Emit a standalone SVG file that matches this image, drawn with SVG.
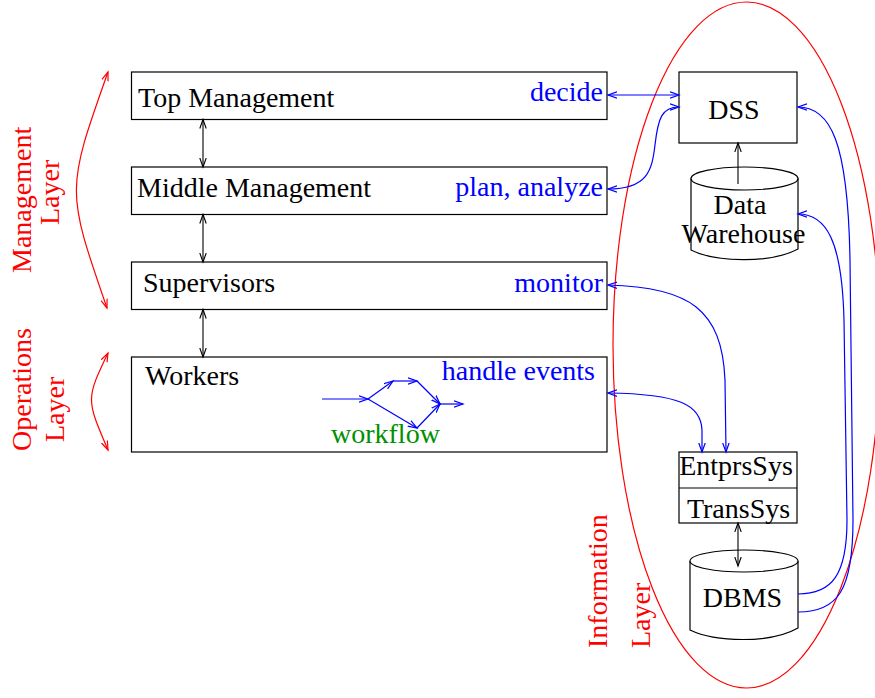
<svg xmlns="http://www.w3.org/2000/svg" width="875" height="698" viewBox="0 0 875 698">
  <style>
    .box { fill: #fff; stroke: #000; stroke-width: 1.2; }
    .t { font-family: "Liberation Serif", "Times New Roman", serif; font-size: 28px; }
    .k { fill: #000; }
    .b { fill: #0000ff; }
    .r { fill: #ff0000; }
    .g { fill: #009000; }
    .ck { fill: none; stroke: #000; stroke-width: 1.1; }
    .cb { fill: none; stroke: #0000ff; stroke-width: 1.2; }
    .cr { fill: none; stroke: #ff0000; stroke-width: 1.2; }
  </style>
  <defs>
    <marker id="ak" markerUnits="userSpaceOnUse" markerWidth="12" markerHeight="10" refX="9" refY="4" orient="auto-start-reverse">
      <path d="M0,0.8 L9,4 L0,7.2" fill="none" stroke="#000" stroke-width="1.1"/>
    </marker>
    <marker id="ab" markerUnits="userSpaceOnUse" markerWidth="12" markerHeight="10" refX="9" refY="4" orient="auto-start-reverse">
      <path d="M0,0.8 L9,4 L0,7.2" fill="none" stroke="#0000ff" stroke-width="1.2"/>
    </marker>
    <marker id="ar" markerUnits="userSpaceOnUse" markerWidth="12" markerHeight="10" refX="9" refY="4" orient="auto-start-reverse">
      <path d="M0,0.8 L9,4 L0,7.2" fill="none" stroke="#ff0000" stroke-width="1.2"/>
    </marker>
  </defs>

  <!-- information layer boundary -->
  <ellipse cx="746.5" cy="345" rx="133.5" ry="343" class="cr"/>

  <!-- hierarchy boxes -->
  <g id="top-management">
    <rect class="box" x="131.5" y="72" width="475.5" height="47.5"/>
    <text class="t k" x="138" y="107">Top Management</text>
    <text class="t b" x="603" y="101" text-anchor="end">decide</text>
  </g>
  <g id="middle-management">
    <rect class="box" x="131.5" y="167" width="475.5" height="47.5"/>
    <text class="t k" x="137" y="197">Middle Management</text>
    <text class="t b" x="603" y="196" text-anchor="end">plan, analyze</text>
  </g>
  <g id="supervisors">
    <rect class="box" x="131.5" y="262" width="475.5" height="47.5"/>
    <text class="t k" x="143" y="292">Supervisors</text>
    <text class="t b" x="603" y="292" text-anchor="end">monitor</text>
  </g>
  <g id="workers">
    <rect class="box" x="131.5" y="357" width="475.5" height="95"/>
    <text class="t k" x="145" y="385">Workers</text>
    <text class="t b" x="595" y="380" text-anchor="end">handle events</text>
    <g id="workflow">
      <line class="cb" x1="322" y1="399" x2="368" y2="399" marker-end="url(#ab)"/>
      <line class="cb" x1="368" y1="399" x2="393" y2="381" marker-end="url(#ab)"/>
      <line class="cb" x1="393" y1="381" x2="417" y2="381" marker-end="url(#ab)"/>
      <line class="cb" x1="417" y1="381" x2="440" y2="404" marker-end="url(#ab)"/>
      <line class="cb" x1="368" y1="399" x2="417" y2="428" marker-end="url(#ab)"/>
      <line class="cb" x1="417" y1="428" x2="440" y2="404" marker-end="url(#ab)"/>
      <line class="cb" x1="440" y1="404" x2="463" y2="404" marker-end="url(#ab)"/>
      <text class="t g" x="331" y="443">workflow</text>
    </g>
  </g>

  <!-- information systems -->
  <g id="dss">
    <rect class="box" x="679" y="72" width="118" height="71"/>
    <text class="t k" x="734" y="119" text-anchor="middle">DSS</text>
  </g>
  <g id="data-warehouse">
    <path class="box" d="M691,178.5 L691,250 C 715,262 770,264 798,249 L798,178.5"/>
    <ellipse class="box" cx="744.5" cy="178.5" rx="53.5" ry="11.5"/>
    <text class="t k" x="740" y="214" text-anchor="middle">Data</text>
    <text class="t k" x="743.5" y="243" text-anchor="middle" textLength="124" lengthAdjust="spacing">Warehouse</text>
  </g>
  <g id="enterprise-systems">
    <rect class="box" x="679" y="452" width="118" height="71"/>
    <line class="ck" x1="679" y1="488" x2="797" y2="488"/>
    <text class="t k" x="736" y="475" text-anchor="middle">EntprsSys</text>
    <text class="t k" x="738.5" y="518" text-anchor="middle">TransSys</text>
  </g>
  <g id="dbms">
    <path class="box" d="M690,561 L690,630 C 715,642 770,644 798,628 L798,561"/>
    <ellipse class="box" cx="744" cy="561" rx="54" ry="11"/>
    <text class="t k" x="742.5" y="607" text-anchor="middle">DBMS</text>
  </g>

  <!-- layer labels -->
  <g id="management-layer">
    <text class="t r" transform="translate(31,273) rotate(-90)">Management</text>
    <text class="t r" transform="translate(59,225) rotate(-90)">Layer</text>
  </g>
  <g id="operations-layer">
    <text class="t r" transform="translate(31,451) rotate(-90)">Operations</text>
    <text class="t r" transform="translate(64,442) rotate(-90)">Layer</text>
  </g>
  <g id="information-layer">
    <text class="t r" transform="translate(607,648) rotate(-90)">Information</text>
    <text class="t r" transform="translate(650,648) rotate(-90)">Layer</text>
  </g>

  <!-- connectors -->
  <g id="connectors">
    <line class="ck" x1="203" y1="119.5" x2="203" y2="167" marker-start="url(#ak)" marker-end="url(#ak)"/>
    <line class="ck" x1="203" y1="214.5" x2="203" y2="262" marker-start="url(#ak)" marker-end="url(#ak)"/>
    <line class="ck" x1="203" y1="309.5" x2="203" y2="357" marker-start="url(#ak)" marker-end="url(#ak)"/>
    <line class="ck" x1="738" y1="184" x2="738" y2="143" marker-end="url(#ak)"/>
    <line class="ck" x1="738" y1="523" x2="738" y2="566" marker-start="url(#ak)" marker-end="url(#ak)"/>

    <line class="cb" x1="608" y1="95" x2="679" y2="95" marker-start="url(#ab)" marker-end="url(#ab)"/>
    <path class="cb" d="M608,189 C 648,189 652,170 655,145 C 658,118 662,107 679,107" marker-start="url(#ab)" marker-end="url(#ab)"/>
    <path class="cb" d="M608,285 C 690,287 722,310 725,380 L726,452" marker-start="url(#ab)" marker-end="url(#ab)"/>
    <path class="cb" d="M608,393 C 680,394 701,405 702,430 L702,452" marker-start="url(#ab)" marker-end="url(#ab)"/>
    <path class="cb" d="M798,612 C 838,612 853,590 853,520 L 850,260 C 848,140 830,107 798,107" marker-end="url(#ab)"/>
    <path class="cb" d="M798,594 C 832,594 847,575 847,520 L 844,320 C 842,240 826,214 798,214" marker-end="url(#ab)"/>

    <path class="cr" d="M107,308 C 66,190 66,190 108,72" marker-start="url(#ar)" marker-end="url(#ar)"/>
    <path class="cr" d="M108,450 C 86,399 86,399 108,353" marker-start="url(#ar)" marker-end="url(#ar)"/>
  </g>
</svg>
